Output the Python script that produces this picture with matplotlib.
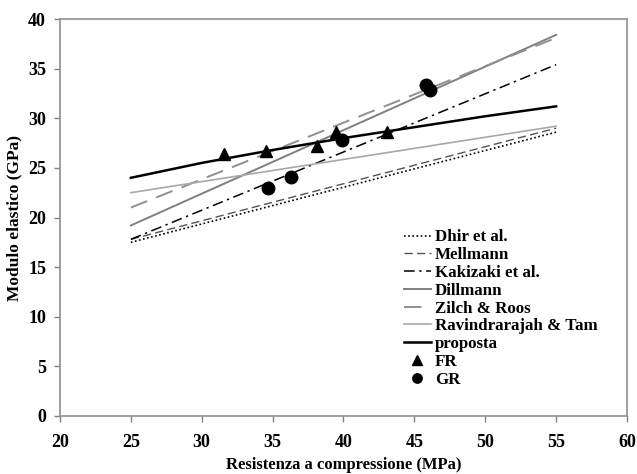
import matplotlib
matplotlib.use("Agg")
import matplotlib.pyplot as plt

plt.rcParams['font.family'] = ['Liberation Serif', 'DejaVu Serif']
plt.rcParams['font.weight'] = 'bold'

# Model lines: compressive strength range and predicted modulus at each end
x_range = [25, 55]
dhir = [17.5, 28.6]
mellmann = [17.8, 29.0]
kakizaki = [17.8, 35.4]
dillmann = [19.2, 38.4]
zilch_roos = [21.0, 38.1]
ravindrarajah_tam = [22.5, 29.2]

# Proposed relation
proposta_x = [25, 30, 35, 40, 45, 50, 55]
proposta_y = [24.0, 25.5, 26.8, 28.0, 29.1, 30.2, 31.2]

# Experimental data
fr_x = [31.6, 34.5, 38.1, 39.5, 43.1]
fr_y = [26.4, 26.7, 27.2, 28.6, 28.6]
gr_x = [34.7, 36.3, 39.9, 45.8, 46.1]
gr_y = [23.0, 24.1, 27.8, 33.3, 32.8]

fig = plt.figure(figsize=(6.37, 4.74), dpi=100)
ax = fig.add_axes([60/637, 1 - 416/474, 567/637, 397/474])

ax.plot(x_range, dhir, color='black', linestyle=(0, (1, 1.5)), lw=1.2, label='Dhir et al.')
ax.plot(x_range, mellmann, color='#555555', linestyle=(0, (6, 3)), lw=1.0, label='Mellmann')
ax.plot(x_range, kakizaki, color='black', linestyle=(0, (7, 3, 1.5, 3)), lw=1.1, label='Kakizaki et al.')
ax.plot(x_range, dillmann, color='#808080', linestyle='-', lw=1.4, label='Dillmann')
ax.plot(x_range, zilch_roos, color='#909090', linestyle=(0, (9, 5)), lw=1.4, label='Zilch & Roos')
ax.plot(x_range, ravindrarajah_tam, color='#a8a8a8', linestyle='-', lw=1.2, label='Ravindrarajah & Tam')
ax.plot(proposta_x, proposta_y, color='black', linestyle='-', lw=1.8, label='proposta')
ax.plot(fr_x, fr_y, linestyle='none', marker='^', color='black', ms=9, label='FR')
ax.plot(gr_x, gr_y, linestyle='none', marker='o', color='black', ms=9, label='GR')

ax.set_xlim(20, 60)
ax.set_ylim(0, 40)
ax.set_xticks(range(20, 61, 5))
ax.set_yticks(range(0, 41, 5))
ax.tick_params(axis='both', direction='out', length=4, width=1, color='#808080',
               labelsize=13)
for lbl in ax.get_xticklabels() + ax.get_yticklabels():
    lbl.set_fontweight('bold')
ax.tick_params(axis='x', pad=9)
ax.tick_params(axis='y', pad=6)
for side in ['left', 'bottom', 'top', 'right']:
    ax.spines[side].set_color('#909090')
    ax.spines[side].set_linewidth(1.2)

ax.set_xlabel('Resistenza a compressione (MPa)', fontsize=12, fontweight='bold', labelpad=4)
ax.set_ylabel('Modulo elastico (GPa)', fontsize=12.5, fontweight='bold', labelpad=4)

leg = ax.legend(loc='upper left', bbox_to_anchor=(0.594, 0.487), frameon=False,
                handlelength=1.6, handletextpad=0.25, labelspacing=0.105,
                prop={'family': 'Liberation Serif', 'weight': 'bold', 'size': 12.2},
                borderaxespad=0, markerscale=0.75)

fig.savefig('out.png', dpi=100)
